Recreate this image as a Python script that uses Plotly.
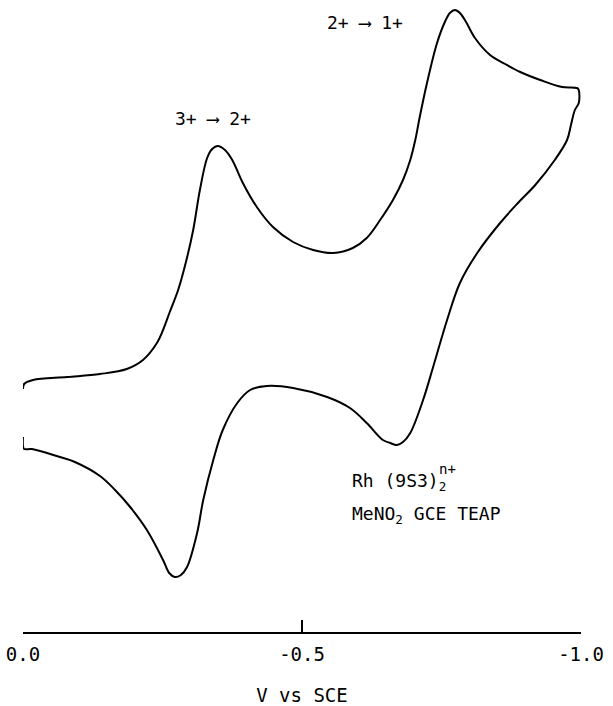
import plotly.graph_objects as go

# Potential (V vs SCE) and current (arbitrary units)
# forward scan (0.0 -> -1.0 V)
v_forward = [0.000, -0.002, -0.018, -0.079, -0.138, -0.186, -0.215, -0.240, -0.251,
             -0.263, -0.278, -0.292, -0.305, -0.317, -0.330, -0.339, -0.349, -0.362,
             -0.375, -0.394, -0.419, -0.448, -0.484, -0.520, -0.556, -0.591, -0.616,
             -0.640, -0.663, -0.681, -0.694, -0.703, -0.711, -0.724, -0.742, -0.756,
             -0.765, -0.774, -0.783, -0.794, -0.810, -0.837, -0.864, -0.891, -0.927,
             -0.966, -0.993, -0.996, -0.996]
i_forward = [24.3, 24.8, 25.2, 25.5, 25.8, 26.3, 27.2, 28.9, 30.2,
             32.0, 34.2, 37.0, 40.2, 44.2, 47.4, 48.3, 48.6, 48.2,
             47.2, 44.9, 42.5, 40.5, 39.0, 38.2, 37.9, 38.4, 39.4,
             41.2, 43.2, 45.2, 47.2, 49.2, 51.5, 54.9, 58.9, 61.0,
             61.9, 62.2, 61.9, 61.0, 59.4, 57.7, 56.8, 56.0, 55.2,
             54.5, 54.4, 54.2, 52.9]

# reverse scan (-1.0 -> 0.0 V)
v_reverse = [-0.989, -0.982, -0.975, -0.953, -0.918, -0.887, -0.855, -0.814, -0.783,
             -0.760, -0.735, -0.717, -0.694, -0.681, -0.670, -0.658, -0.645, -0.616,
             -0.586, -0.545, -0.484, -0.437, -0.407, -0.384, -0.358, -0.341, -0.323,
             -0.312, -0.294, -0.283, -0.272, -0.262, -0.251, -0.222, -0.192, -0.165,
             -0.138, -0.093, -0.066, -0.016, -0.002, 0.000, 0.000]
i_reverse = [52.2, 50.7, 49.2, 47.2, 44.7, 42.9, 40.9, 37.9, 34.9,
             31.2, 26.5, 23.2, 19.9, 19.0, 18.7, 18.9, 19.2, 20.9,
             22.4, 23.5, 24.4, 24.6, 24.2, 22.9, 20.2, 17.2, 13.2,
             9.9, 6.5, 5.7, 5.5, 5.9, 7.2, 10.2, 12.5, 14.2,
             15.6, 17.0, 17.5, 18.3, 18.3, 18.6, 19.5]

tick_vals = [0.0, -0.5, -1.0]
tick_text = ["0.0", "-0.5", "-1.0"]

FONT = "DejaVu Sans Mono"

fig = go.Figure()
fig.add_trace(go.Scatter(
    x=v_forward + v_reverse,
    y=i_forward + i_reverse,
    mode="lines",
    line=dict(color="black", width=2, shape="spline", smoothing=1.0),
    hoverinfo="skip",
    showlegend=False,
))

annotations = [
    dict(x=-0.613, y=61.0, text="2+ ⟶ 1+", xanchor="center", yanchor="middle", font=dict(size=18)),
    dict(x=-0.3405, y=51.4, text="3+ ⟶ 2+", xanchor="center", yanchor="middle", font=dict(size=18)),
    dict(x=-0.586, y=15.0, text="Rh (9S3)<sub>2</sub>", xanchor="left", yanchor="middle", font=dict(size=18)),
    dict(x=-0.742, y=16.3, text="n+", xanchor="left", yanchor="middle", font=dict(size=14)),
    dict(x=-0.586, y=11.7, text="MeNO<sub>2</sub> GCE TEAP", xanchor="left", yanchor="middle", font=dict(size=18)),
]
for a in annotations:
    a.update(xref="x", yref="y", showarrow=False)
    a["font"].update(family=FONT, color="black")

fig.update_layout(
    width=613, height=706,
    margin=dict(l=23, r=32, t=0, b=74),
    paper_bgcolor="white", plot_bgcolor="white",
    font=dict(family=FONT, color="black"),
    annotations=annotations,
    xaxis=dict(
        range=[0.0, -1.0],
        tickvals=tick_vals, ticktext=tick_text,
        ticks="inside", ticklen=12, tickwidth=1.5, tickcolor="black",
        showline=True, linecolor="black", linewidth=1.5,
        showgrid=False, zeroline=False,
        tickfont=dict(size=19, family=FONT, color="black"),
        ticklabelstandoff=5,
        title=dict(text="V vs SCE", font=dict(size=19, family=FONT, color="black"), standoff=24),
        automargin=False,
    ),
    yaxis=dict(range=[0, 63.2], visible=False, showgrid=False, zeroline=False),
)

fig.write_html(
    "out.html",
    config={"displayModeBar": False, "staticPlot": True},
    post_script="document.body.style.margin='0px';document.body.style.overflow='hidden';",
)
